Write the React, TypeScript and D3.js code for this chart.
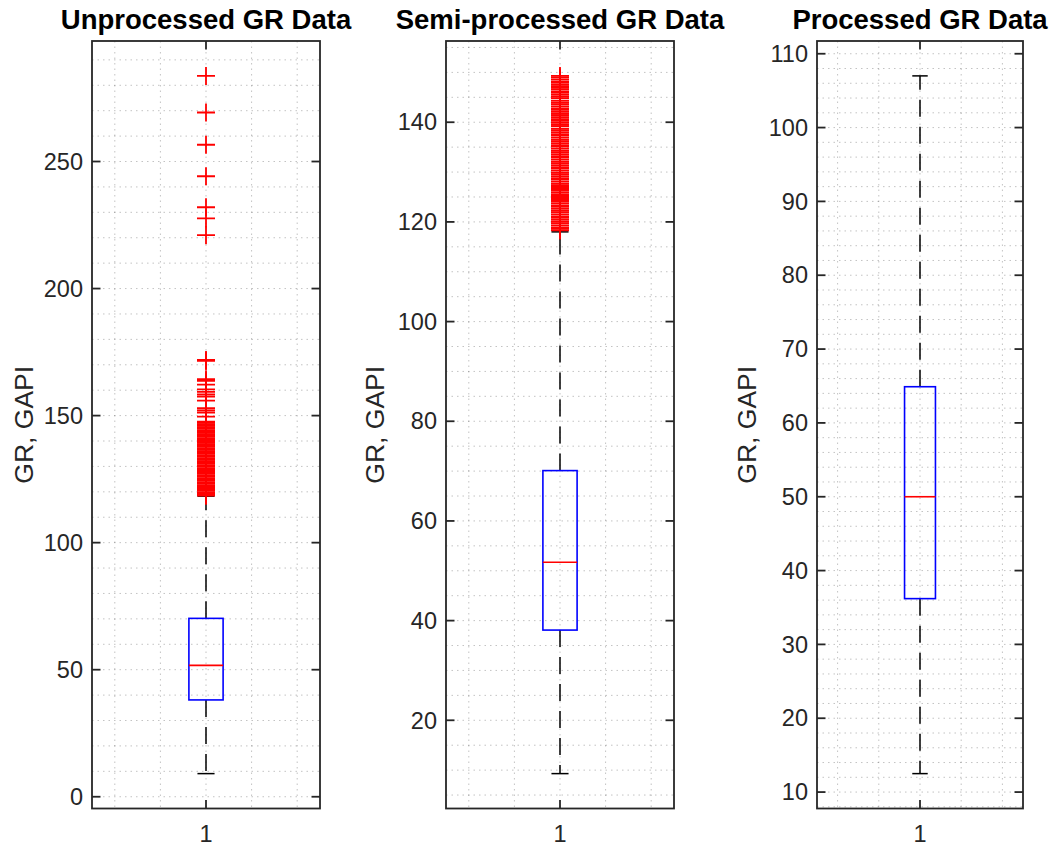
import React from 'react';
import * as d3 from 'd3';

const W = 1057;
const H = 845;

// Titles and labels
const titles = ['Unprocessed GR Data', 'Semi-processed GR Data', 'Processed GR Data'];
const yLabel = 'GR, GAPI';
const xTickLabels = ['1'];

// Box statistics per panel (GAPI)
const q1 = [38.1, 38.1, 36.2];
const medians = [51.7, 51.7, 50.0];
const q3 = [70.2, 70.1, 64.9];
const whiskerLow = [9.1, 9.3, 12.5];
const whiskerHigh = [118.3, 118.0, 107.0];

// Outliers beyond the upper whisker
const outliersUnprocessed = [
  283.7, 269.3, 256.6, 244.2, 232.0, 227.6, 221.0,
  171.9, 171.5, 164.3, 163.7, 162.2, 160.3, 159.3, 158.3, 157.5, 155.9,
  152.9, 152.0, 151.2, 149.6, 147.6, 147.1, 146.6, 146.0, 145.5, 144.9,
  144.3, 143.8, 143.2, 142.7, 142.1, 141.6, 141.0, 140.4, 139.9, 139.3,
  138.8, 138.2, 137.7, 137.1, 136.5, 136.0, 135.4, 134.9, 134.3, 133.8,
  133.2, 132.6, 132.1, 131.5, 131.0, 130.4, 129.9, 129.3, 128.7, 128.2,
  127.6, 127.1, 126.5, 126.0, 125.4, 124.8, 124.3, 123.7, 123.2, 122.6,
  122.1, 121.5, 120.9, 120.4, 119.8, 119.3, 118.8, 118.5,
];
const outliersSemi = [
  149.3, 149.0, 148.6, 148.2, 147.9, 147.5, 147.2, 146.9, 146.6, 146.2,
  145.9, 145.5, 145.1, 144.8, 144.3, 143.9, 143.6, 143.2, 142.8, 142.5,
  142.1, 141.7, 141.4, 141.0, 140.6, 140.3, 139.9, 139.5, 139.2, 138.7,
  138.4, 138.0, 137.6, 137.3, 136.9, 136.5, 136.2, 135.8, 135.4, 135.1,
  134.7, 134.3, 134.0, 133.6, 133.2, 132.9, 132.5, 132.1, 131.8, 131.4,
  131.0, 130.7, 130.3, 129.9, 129.6, 129.2, 128.8, 128.5, 128.1, 127.7,
  127.4, 127.0, 126.6, 126.3, 125.9, 125.5, 125.2, 124.8, 124.4, 124.1,
  123.7, 123.3, 123.0, 122.6, 122.2, 121.9, 121.5, 121.1, 120.8, 120.4,
  120.0, 119.7, 119.3, 118.9, 118.6, 118.3,
];
const outliersProcessed: number[] = [];
const outliers = [outliersUnprocessed, outliersSemi, outliersProcessed];

// Axis ticks
const yTicksUnprocessed = [0, 50, 100, 150, 200, 250];
const yTicksSemi = [20, 40, 60, 80, 100, 120, 140];
const yTicksProcessed = [10, 20, 30, 40, 50, 60, 70, 80, 90, 100, 110];
const yTicks = [yTicksUnprocessed, yTicksSemi, yTicksProcessed];
const yMinorStep = [10, 5, 2];
const xMinorTicks = [0.6, 0.8, 1.0, 1.2, 1.4];

// Layout
const TOP = 41;
const BOTTOM = 808.5;
const panelX: [number, number][] = [
  [92, 320],
  [446, 674],
  [817, 1023],
];
const labelX = [33, 384, 756];

const FONT = '"Liberation Sans", Arial, Helvetica, sans-serif';
const AXIS = '#262626';
const TICK = 8.5;
const BOX_W = 0.15;
const CAP_W = 0.075;
const MARK = 9;

function Panel({ i }: { i: number }) {
  const [left, right] = panelX[i];
  const outs = outliers[i];
  const lo = Math.min(whiskerLow[i], ...outs);
  const hi = Math.max(whiskerHigh[i], ...outs);
  const pad = (hi - lo) * 0.05;
  const y = d3.scaleLinear().domain([lo - pad, hi + pad]).range([BOTTOM, TOP]);
  const x = d3.scaleLinear().domain([0.5, 1.5]).range([left, right]);
  const [d0, d1] = y.domain();
  const step = yMinorStep[i];
  const minor = d3.range(Math.ceil(d0 / step) * step, d1, step);
  const cx = x(1);
  const gridStyle = {
    stroke: AXIS,
    strokeOpacity: 0.28,
    strokeWidth: 1,
    strokeDasharray: '1.5 4',
  };

  return (
    <g>
      {/* grid */}
      {minor.map((v) => (
        <line key={'h' + v} x1={left} x2={right} y1={y(v)} y2={y(v)} style={gridStyle} />
      ))}
      {xMinorTicks.map((v) => (
        <line key={'v' + v} x1={x(v)} x2={x(v)} y1={TOP} y2={BOTTOM} style={gridStyle} />
      ))}

      {/* whiskers */}
      <line x1={cx} x2={cx} y1={y(q3[i])} y2={y(whiskerHigh[i])} stroke="#000" strokeWidth={1.5} strokeDasharray="17 10" />
      <line x1={cx} x2={cx} y1={y(q1[i])} y2={y(whiskerLow[i])} stroke="#000" strokeWidth={1.5} strokeDasharray="17 10" />
      <line x1={x(1 - CAP_W / 2)} x2={x(1 + CAP_W / 2)} y1={y(whiskerHigh[i])} y2={y(whiskerHigh[i])} stroke="#000" strokeWidth={1.5} />
      <line x1={x(1 - CAP_W / 2)} x2={x(1 + CAP_W / 2)} y1={y(whiskerLow[i])} y2={y(whiskerLow[i])} stroke="#000" strokeWidth={1.5} />

      {/* box */}
      <rect
        x={x(1 - BOX_W / 2)}
        y={y(q3[i])}
        width={x(1 + BOX_W / 2) - x(1 - BOX_W / 2)}
        height={y(q1[i]) - y(q3[i])}
        fill="none"
        stroke="#0000ff"
        strokeWidth={1.6}
      />
      <line x1={x(1 - BOX_W / 2)} x2={x(1 + BOX_W / 2)} y1={y(medians[i])} y2={y(medians[i])} stroke="#ff0000" strokeWidth={1.6} />

      {/* outliers */}
      {outs.map((v, k) => (
        <path
          key={'o' + k}
          d={`M${cx - MARK},${y(v)}H${cx + MARK}M${cx},${y(v) - MARK}V${y(v) + MARK}`}
          stroke="#ff0000"
          strokeWidth={1.8}
          fill="none"
        />
      ))}

      {/* axes box and ticks */}
      <rect x={left} y={TOP} width={right - left} height={BOTTOM - TOP} fill="none" stroke={AXIS} strokeWidth={1.8} />
      {yTicks[i].map((v) => (
        <g key={'t' + v}>
          <line x1={left} x2={left + TICK} y1={y(v)} y2={y(v)} stroke={AXIS} strokeWidth={1.8} />
          <line x1={right} x2={right - TICK} y1={y(v)} y2={y(v)} stroke={AXIS} strokeWidth={1.8} />
          <text x={left - 9} y={y(v)} dy="0.35em" textAnchor="end" fontFamily={FONT} fontSize={23.5} fill={AXIS}>
            {v}
          </text>
        </g>
      ))}
      {xTickLabels.map((lab, k) => (
        <g key={'x' + k}>
          <line x1={x(k + 1)} x2={x(k + 1)} y1={BOTTOM} y2={BOTTOM - TICK} stroke={AXIS} strokeWidth={1.8} />
          <line x1={x(k + 1)} x2={x(k + 1)} y1={TOP} y2={TOP + TICK} stroke={AXIS} strokeWidth={1.8} />
          <text x={x(k + 1)} y={841.5} textAnchor="middle" fontFamily={FONT} fontSize={23.5} fill={AXIS}>
            {lab}
          </text>
        </g>
      ))}

      {/* labels */}
      <text x={(left + right) / 2} y={28.5} textAnchor="middle" fontFamily={FONT} fontSize={27.5} fontWeight="bold" fill="#000">
        {titles[i]}
      </text>
      <text
        transform={`translate(${labelX[i]},${(TOP + BOTTOM) / 2}) rotate(-90)`}
        textAnchor="middle"
        fontFamily={FONT}
        fontSize={26.5}
        fill={AXIS}
      >
        {yLabel}
      </text>
    </g>
  );
}

export default function App() {
  return (
    <svg
      width={W}
      height={H}
      viewBox={`0 0 ${W} ${H}`}
      style={{ position: 'absolute', left: 0, top: 0, background: '#fff' }}
    >
      <rect width={W} height={H} fill="#fff" />
      {titles.map((_, i) => (
        <Panel key={i} i={i} />
      ))}
    </svg>
  );
}
